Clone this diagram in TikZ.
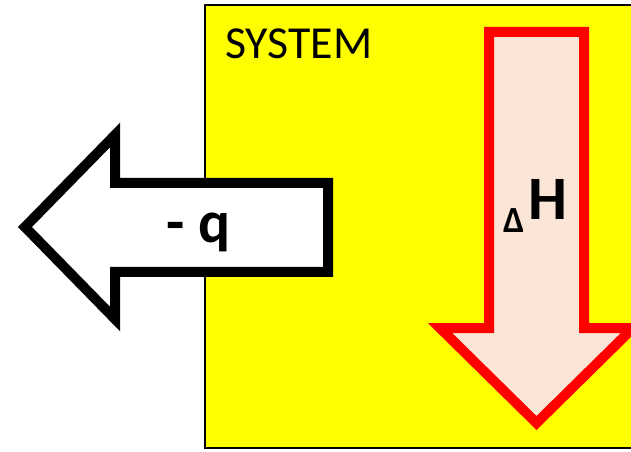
\documentclass[tikz,border=0pt]{standalone}
\usepackage{fontspec}
\setmainfont{Carlito}
\definecolor{sysyellow}{HTML}{FFFF00}
\definecolor{peach}{HTML}{FBE5D6}
\definecolor{hred}{HTML}{FF0000}
\tikzset{
  heatarrow/.style={draw=black, fill=white, line width=10bp, line join=miter},
  enthalpyarrow/.style={draw=hred, fill=peach, line width=10bp, line join=miter},
  bigbold/.style={font=\fontsize{60}{60}\selectfont\bfseries, inner sep=0pt, anchor=base west},
}
\begin{document}
\begin{tikzpicture}[x=1bp,y=-1bp]
\useasboundingbox (0,0) rectangle (631,452);
\clip (0,0) rectangle (631,452);
\fill[white] (0,0) rectangle (631,452);
% system box
\draw[fill=sysyellow, line width=2bp] (205,5) rectangle (660,448);
\node[anchor=base west, inner sep=0pt, font=\fontsize{46}{46}\selectfont] (sys) at (225,59) {SYSTEM};
% heat arrow
\draw[heatarrow] (328,183) -- (115,183) -- (115,135) -- (25,227) -- (115,319) -- (115,272) -- (328,272) -- cycle;
\node[bigbold] (q) at (166,243) {- q};
% enthalpy arrow
\draw[enthalpyarrow] (489,32) -- (584,32) -- (584,328) -- (633,328) -- (536.5,423) -- (440,328) -- (489,328) -- cycle;
\node[anchor=base west, inner sep=0pt, font=\fontsize{37}{37}\selectfont\bfseries] (delta) at (503,233) {Δ};
\node[bigbold, font=\fontsize{62}{62}\selectfont\bfseries] (H) at (528,220) {H};
\end{tikzpicture}
\end{document}
